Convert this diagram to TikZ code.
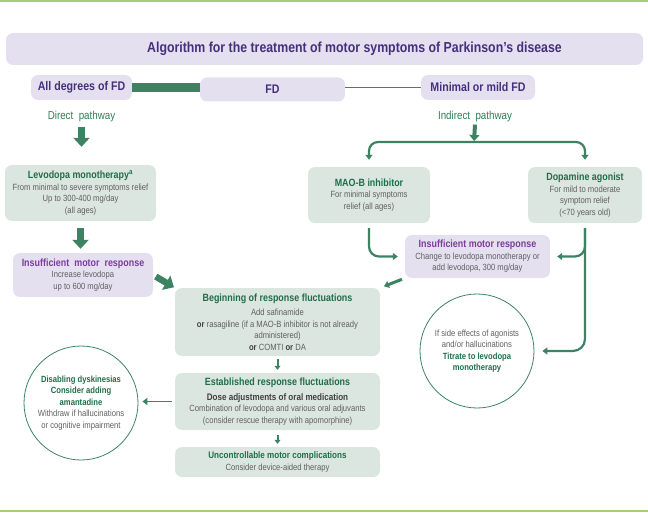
\documentclass[tikz,border=0pt]{standalone}
\usepackage{fontspec}
\setmainfont{Liberation Sans}[FakeStretch=0.85]
\usetikzlibrary{positioning,calc,arrows.meta}
\definecolor{lav}{HTML}{E5E0F0}
\definecolor{sage}{HTML}{DCE6E0}
\definecolor{dkgreen}{HTML}{1F6E48}
\definecolor{pathgreen}{HTML}{2F7D55}
\definecolor{argreen}{HTML}{3C8263}
\definecolor{lime}{HTML}{A6CE74}
\definecolor{dkpurple}{HTML}{45307C}
\definecolor{mdpurple}{HTML}{7B3C9C}
\definecolor{txtgrey}{HTML}{606060}
\newcommand{\gtitle}[1]{{\fontsize{10.5}{12}\selectfont\bfseries\color{dkgreen}#1}}
\newcommand{\ptitle}[1]{{\fontsize{10.5}{12}\selectfont\bfseries\color{mdpurple}#1}}
\newcommand{\gb}[1]{{\bfseries\color{dkgreen}#1}}
\newcommand{\bor}{{\bfseries\color{black!75}or}}

\begin{document}
\begin{tikzpicture}[x=1pt, y=-1pt,
	every node/.style={align=center, inner sep=2pt, text=txtgrey, font=\fontsize{9}{11.5}\selectfont},
	lavbox/.style={fill=lav, rounded corners=7pt},
	sagebox/.style={fill=sage, rounded corners=7pt},
	ring/.style={circle, draw=argreen, line width=0.8pt, minimum size=114pt, inner sep=0pt},
	toplabel/.style={lavbox, text=dkpurple, font=\fontsize{12.5}{14}\selectfont\bfseries},
	pathlabel/.style={text=pathgreen, font=\fontsize{11.5}{13}\selectfont},
	blockarrow/.style={argreen, line width=6.5pt, -{Triangle[width=16pt,length=9pt]}},
	midarrow/.style={argreen, line width=4pt, -{Triangle[width=10pt,length=6pt]}},
	linkarrow/.style={argreen, line width=2.2pt, -{Triangle[width=7pt,length=5pt]}},
	smallarrow/.style={argreen, line width=2pt, -{Triangle[width=6pt,length=4pt]}},
	]
	\useasboundingbox (0,0) rectangle (648,513);
	\draw[lime, line width=2pt] (0,1) -- (648,1);
	\draw[lime, line width=2pt] (0,511) -- (648,511);

	\node[lavbox, minimum width=637pt, minimum height=32pt, text=dkpurple, font=\fontsize{14.5}{16}\selectfont\bfseries] (title) at (324.5,49) {\hspace*{60pt}Algorithm for the treatment of motor symptoms of Parkinson's disease};

	\node[toplabel, minimum width=101pt, minimum height=25pt] (alldeg) at (81.5,87.5) {All degrees of FD};
	\node[toplabel, minimum width=145pt, minimum height=24pt] (fd) at (272.5,89.5) {FD};
	\node[toplabel, minimum width=114pt, minimum height=25pt] (mild) at (478,87.5) {Minimal or mild FD};
	\draw[argreen, line width=8.5pt] (alldeg.east) -- (alldeg.east -| fd.west);
	\draw[argreen, line width=1.5pt] (fd.east |- mild.west) -- (mild.west);

	\node[pathlabel] (direct) at (81.5,117) {Direct\ \ pathway};
	\node[pathlabel] (indirect) at (475,117) {Indirect\ \ pathway};

	\node[sagebox, minimum width=151pt, minimum height=56pt] (levo) at (80.5,193) {\gtitle{Levodopa monotherapy\textsuperscript{a}}\\From minimal to severe symptoms relief\\Up to 300-400 mg/day\\(all ages)};
	\node[lavbox, minimum width=140pt, minimum height=44pt] (insleft) at (83,275) {\ptitle{Insufficient\ \ motor\ \ response}\\Increase levodopa\\up to 600 mg/day};

	\node[sagebox, minimum width=205pt, minimum height=68pt] (begin) at (277.5,322) {\gtitle{Beginning of response fluctuations}\\[3pt]Add safinamide\\\bor{} rasagiline (if a MAO-B inhibitor is not already\\administered)\\\bor{} COMTI \bor{} DA};
	\node[sagebox, minimum width=205pt, minimum height=57pt] (estab) at (277.5,401.5) {\gtitle{Established response fluctuations}\\[3pt]{\fontsize{9.5}{11.5}\selectfont\bfseries\color{black!75}Dose adjustments of oral medication}\\Combination of levodopa and various oral adjuvants\\(consider rescue therapy with apomorphine)};
	\node[sagebox, minimum width=205pt, minimum height=30pt] (uncon) at (277.5,462) {{\fontsize{9.5}{11.5}\selectfont\bfseries\color{dkgreen}Uncontrollable motor complications}\\Consider device-aided therapy};

	\node[ring] (dysk) at (81,403) {\gb{Disabling dyskinesias}\\\gb{Consider adding}\\\gb{amantadine}\\Withdraw if hallucinations\\or cognitive impairment};

	\node[sagebox, minimum width=122pt, minimum height=56pt] (maob) at (369,195) {\gtitle{MAO-B inhibitor}\\For minimal symptoms\\relief (all ages)};
	\node[sagebox, minimum width=114pt, minimum height=56pt] (dopa) at (585,195) {\gtitle{Dopamine agonist}\\For mild to moderate\\symptom relief\\(<70 years old)};
	\node[lavbox, minimum width=145pt, minimum height=43pt] (insright) at (477.5,256.5) {\ptitle{Insufficient motor response}\\Change to levodopa monotherapy or\\add levodopa, 300 mg/day};
	\node[ring] (titrate) at (477,351) {If side effects of agonists\\and/or hallucinations\\\gb{Titrate to levodopa}\\\gb{monotherapy}};

	\coordinate (split) at (474,142);
	\draw[blockarrow, shorten <=2pt, shorten >=18pt] (direct.south) -- (direct.south |- levo.north);
	\draw[blockarrow, shorten <=7pt, shorten >=4pt] (levo.south) -- (levo.south |- insleft.north);
	\draw[blockarrow, shorten <=3pt, shorten >=1pt] (insleft.east) -- (begin.north west);
	\draw[smallarrow, shorten <=3pt, shorten >=3pt] (begin.south) -- (estab.north);
	\draw[smallarrow, shorten <=5pt, shorten >=3pt] (estab.south) -- (uncon.north);
	\draw[linkarrow, line width=1.8pt, shorten <=3pt, shorten >=4pt] (estab.west) -- (estab.west -| dysk.east);

	\draw[midarrow, shorten >=1pt] (indirect.south) -- (split);
	\draw[linkarrow, rounded corners=9pt, shorten >=7pt] (split) -| (maob.north);
	\draw[linkarrow, rounded corners=9pt, shorten >=7pt] (split) -| (dopa.north);
	\draw[linkarrow, rounded corners=10pt, shorten <=5pt, shorten >=7pt] (maob.south) |- (insright.west);
	\draw[linkarrow, rounded corners=10pt, shorten <=5pt, shorten >=7pt] (dopa.south) |- (insright.east);
	\draw[linkarrow, rounded corners=12pt, shorten <=5pt, shorten >=8pt] (dopa.south) |- (titrate.east);
	\draw[linkarrow, line width=3pt, shorten <=3pt, shorten >=4pt] (insright.south west) -- (begin.north east);
\end{tikzpicture}
\end{document}
